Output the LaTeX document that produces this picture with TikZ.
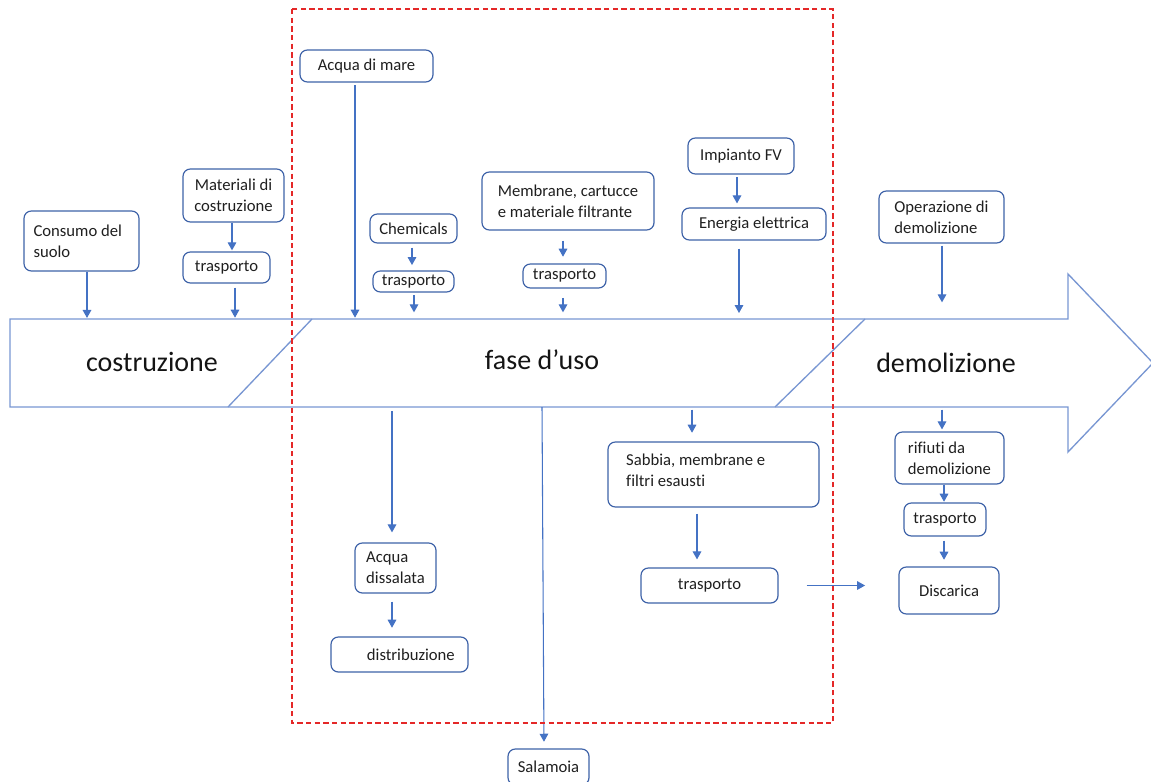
\documentclass[tikz,border=0pt]{standalone}
\usepackage{fontspec}
\setmainfont{Carlito}[Ligatures=NoCommon]
\usetikzlibrary{arrows.meta,calc}
\definecolor{boxc}{RGB}{62,98,168}
\definecolor{connc}{RGB}{68,114,196}
\definecolor{bigc}{RGB}{120,150,210}
\definecolor{redc}{RGB}{228,40,40}
\tikzset{
  box/.style={draw=boxc, line width=0.9pt, rounded corners=5.5pt, inner sep=0pt,
    text=black!88, font=\fontsize{12.5}{15.5}\selectfont},
  conn/.style={draw=connc, line width=0.8pt, -{Triangle[width=6.5pt,length=6pt]}},
  biglabel/.style={text=black!92, font=\fontsize{21}{23}\selectfont, inner sep=0pt},
}
% \bxn[opts]{name}{x1}{y1}{x2}{y2}{text}
\newcommand\bxn[7][]{%
  \node[box, minimum width={(#5-#3)*0.75pt}, minimum height={(#6-#4)*0.75pt}, #1]
    (#2) at ({(#3+#5)/2},{(#4+#6)/2}) {#7};}
\begin{document}
\begin{tikzpicture}[x=0.75pt,y=-0.75pt]
\useasboundingbox (0,0) rectangle (1151,781);
\begin{scope}
\clip (0,0) rectangle (1151,781);
% big arrow
\draw[bigc, line width=1pt, line join=miter]
  (10,319) -- (1068,319) -- (1068,274) -- (1153,363) -- (1068,452) -- (1068,407) -- (10,407) -- cycle;
\draw[bigc, line width=1pt] (228,407) -- (312,319);
\draw[bigc, line width=1pt] (775,407) -- (865,319);
\coordinate (AT) at (0,319);
\coordinate (AB) at (0,407);
\node[biglabel] (lcos) at (152,362) {costruzione};
\node[biglabel] (luso) at (542,360) {fase d’uso};
\node[biglabel] (ldem) at (946,363) {demolizione};

% x helper coordinates
\foreach \xx in {87,232,235,355,392,412,414,542,544,563,692,697,737,739,942,944}
  \coordinate (x\xx) at (\xx,0);

% boxes above
\bxn[text width=72pt, align=flush left]{consumo}{24}{211}{139}{271}{Consumo del\\suolo}
\bxn[align=center]{materiali}{183}{169}{284}{222}{Materiali di\\costruzione}
\bxn{trasp1}{183}{252}{270}{283}{trasporto}
\bxn{acqua}{300}{50}{433}{82}{Acqua di mare}
\bxn{chem}{370}{214}{457}{243}{Chemicals}
\bxn{trasp2}{373}{271}{454}{292}{trasporto}
\bxn[align=left]{membr}{482}{172}{654}{230}{Membrane, cartucce\\e materiale filtrante}
\bxn{trasp3}{523}{264}{606}{288}{trasporto}
\bxn{fv}{688}{138}{794}{174}{Impianto FV}
\bxn{energia}{682}{208}{826}{240}{Energia elettrica}
\bxn[align=left]{oper}{879}{191}{1004}{243}{Operazione di\\demolizione}

% boxes below
\bxn[align=left]{dissal}{355}{543}{436}{593}{Acqua\\dissalata}
\bxn[text width=83pt, align=flush right]{distr}{331}{637}{468}{672}{distribuzione}
\bxn{salam}{508}{749}{589}{785}{Salamoia}
\bxn[text width=131pt, align=flush left]{sabbia}{608}{442}{819}{507}{Sabbia, membrane e\\filtri esausti\\[-9.5pt]\mbox{}}
\bxn{trasp4}{641}{568}{778}{603}{trasporto}
\bxn[align=left]{rifiuti}{895}{432}{1004}{484}{rifiuti da\\demolizione}
\bxn{trasp5}{904}{503}{986}{536}{trasporto}
\bxn{discarica}{899}{567}{999}{614}{Discarica}

% connectors above
\draw[conn, shorten >=0.8pt] (consumo.south -| x87) -- (AT -| x87);
\draw[conn, shorten >=0.8pt] (materiali.south -| x232) -- (trasp1.north -| x232);
\draw[conn, shorten <=3pt, shorten >=1pt] (trasp1.south -| x235) -- (AT -| x235);
\draw[conn, shorten <=2pt, shorten >=1pt] (acqua.south -| x355) -- (AT -| x355);
\draw[conn, shorten <=3pt, shorten >=4pt] (chem.south -| x412) -- (trasp2.north -| x412);
\draw[conn, shorten <=2pt, shorten >=5pt] (trasp2.south -| x414) -- (AT -| x414);
\draw[conn, shorten <=7.5pt, shorten >=5pt] (membr.south -| x563) -- (trasp3.north -| x563);
\draw[conn, shorten <=7pt, shorten >=5pt] (trasp3.south -| x563) -- (AT -| x563);
\draw[conn, shorten <=2pt, shorten >=3pt] (fv.south -| x737) -- (energia.north -| x737);
\draw[conn, shorten <=6pt, shorten >=4.5pt] (energia.south -| x739) -- (AT -| x739);
\draw[conn, shorten <=1.5pt, shorten >=12.5pt] (oper.south -| x942) -- (AT -| x942);

% connectors below
\draw[conn, shorten <=3pt, shorten >=7.5pt] (AB -| x392) -- (dissal.north -| x392);
\draw[conn, shorten <=6pt, shorten >=6.5pt] (dissal.south -| x392) -- (distr.north -| x392);
\draw[conn, shorten >=5pt] (AB -| x542) -- (salam.north -| x544);
\draw[conn, shorten <=2pt, shorten >=6.5pt] (AB -| x692) -- (sabbia.north -| x692);
\draw[conn, shorten <=4.5pt, shorten >=6pt] (sabbia.south -| x697) -- (trasp4.north -| x697);
\draw[conn, shorten <=21pt, shorten >=25pt] (trasp4.east) -- (trasp4.east -| discarica.west);
\draw[conn, shorten <=2pt, shorten >=1.5pt] (AB -| x942) -- (rifiuti.north -| x942);
\draw[conn, shorten >=0.5pt] (rifiuti.south -| x944) -- (trasp5.north -| x944);
\draw[conn, shorten <=3pt, shorten >=5pt] (trasp5.south -| x944) -- (discarica.north -| x944);

% red dashed boundary
\draw[redc, line width=0.8pt, dash pattern=on 4pt off 2.5pt] (292,9) rectangle (833,723);
\end{scope}
\end{tikzpicture}
\end{document}
